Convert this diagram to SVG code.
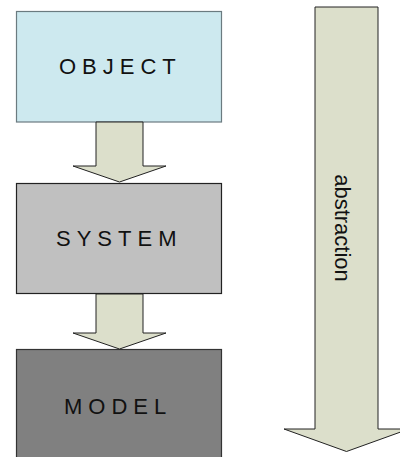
<svg xmlns="http://www.w3.org/2000/svg" width="400" height="457" viewBox="0 0 400 457">
  <style>
    .lbl { font-family: "Liberation Sans", Arial, sans-serif; font-size: 22px; fill: #111; letter-spacing: 6px; }
    .arrow { fill: #dcdfcb; stroke: #222; stroke-width: 1; }
    .abs { font-family: "Liberation Sans", Arial, sans-serif; font-size: 22px; fill: #111; }
  </style>
  <rect width="400" height="457" fill="#ffffff"/>
  <g id="object">
    <rect x="16.5" y="11.5" width="205" height="110.5" fill="#cde9ef" stroke="#6b7b80" stroke-width="1.2"/>
    <text class="lbl" x="59" y="73.5">OBJECT</text>
  </g>
  <g id="system">
    <rect x="16.5" y="183.5" width="205" height="110" fill="#c0c0c0" stroke="#222" stroke-width="1.2"/>
    <text class="lbl" x="56" y="245.5">SYSTEM</text>
  </g>
  <g id="model">
    <rect x="16.5" y="349.5" width="205" height="112" fill="#808080" stroke="#333" stroke-width="1.2"/>
    <text class="lbl" x="64" y="413.5">MODEL</text>
  </g>
  <g id="connectors">
    <polygon class="arrow" points="96,122 143,122 143,166 166,166 119.5,182 73,166 96,166"/>
    <polygon class="arrow" points="96,294 143,294 143,333 166,333 119.5,349 73,333 96,333"/>
  </g>
  <g id="abstraction">
    <polygon class="arrow" points="315,7 378,7 378,429 409,429 346.5,451.5 284,429 315,429"/>
    <text class="abs" transform="translate(335,228) rotate(90)" text-anchor="middle">abstraction</text>
  </g>
</svg>
